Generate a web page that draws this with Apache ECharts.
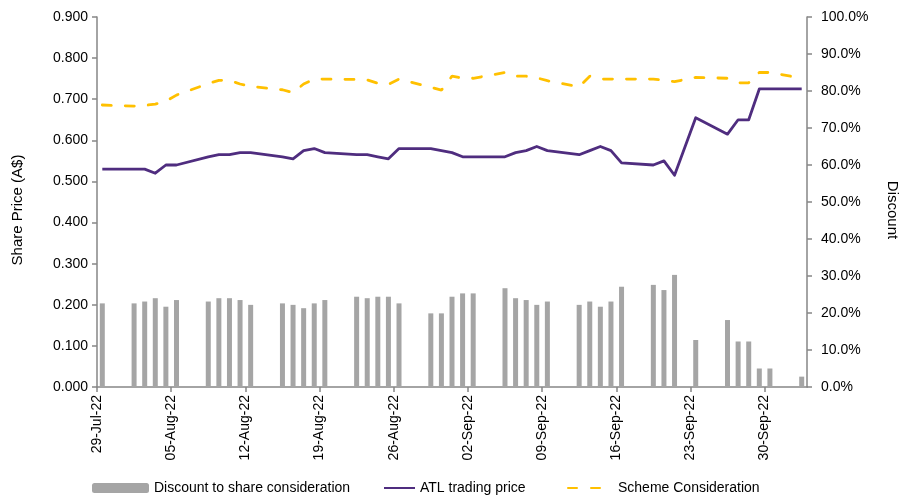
<!DOCTYPE html>
<html lang="en">
<head>
    <meta charset="UTF-8">
    <title>ATL trading price vs Scheme Consideration</title>
    <script src="https://cdn.jsdelivr.net/npm/echarts@6/dist/echarts.min.js"></script>
    <style>
        body { margin: 0; padding: 0; background: #fff; }
        #chart { width: 908px; height: 499px; }
    </style>
</head>
<body>
    <div id="chart"></div>
    <script>
        // trading days (22-Sep-22 closed, no data)
        const dates = [
            '2022-07-29',
            '2022-08-01', '2022-08-02', '2022-08-03', '2022-08-04', '2022-08-05',
            '2022-08-08', '2022-08-09', '2022-08-10', '2022-08-11', '2022-08-12',
            '2022-08-15', '2022-08-16', '2022-08-17', '2022-08-18', '2022-08-19',
            '2022-08-22', '2022-08-23', '2022-08-24', '2022-08-25', '2022-08-26',
            '2022-08-29', '2022-08-30', '2022-08-31', '2022-09-01', '2022-09-02',
            '2022-09-05', '2022-09-06', '2022-09-07', '2022-09-08', '2022-09-09',
            '2022-09-12', '2022-09-13', '2022-09-14', '2022-09-15', '2022-09-16',
            '2022-09-19', '2022-09-20', '2022-09-21', '2022-09-23',
            '2022-09-26', '2022-09-27', '2022-09-28', '2022-09-29', '2022-09-30',
            '2022-10-03'
        ];

        // ATL trading price (A$)
        const atlPrice = [
            0.530,
            0.530, 0.530, 0.520, 0.540, 0.540,
            0.560, 0.565, 0.565, 0.570, 0.570,
            0.560, 0.555, 0.575, 0.580, 0.570,
            0.565, 0.565, 0.560, 0.555, 0.580,
            0.580, 0.575, 0.570, 0.560, 0.560,
            0.560, 0.570, 0.575, 0.585, 0.575,
            0.565, 0.575, 0.585, 0.575, 0.545,
            0.540, 0.550, 0.515, 0.655,
            0.615, 0.650, 0.650, 0.725, 0.725,
            0.725
        ];

        // Scheme Consideration (A$)
        const schemeValue = [
            0.686,
            0.683, 0.685, 0.688, 0.695, 0.710,
            0.738, 0.746, 0.746, 0.737, 0.731,
            0.723, 0.716, 0.737, 0.749, 0.749,
            0.748, 0.747, 0.739, 0.736, 0.749,
            0.729, 0.722, 0.756, 0.751, 0.751,
            0.765, 0.756, 0.756, 0.752, 0.745,
            0.730, 0.756, 0.749, 0.749, 0.749,
            0.749, 0.746, 0.743, 0.753,
            0.751, 0.740, 0.740, 0.765, 0.765,
            0.751
        ];

        // Discount to share consideration (%)
        const discountPct = [
            22.6,
            22.6, 23.1, 24.0, 21.7, 23.5,
            23.1, 24.0, 24.0, 23.5, 22.2,
            22.6, 22.2, 21.3, 22.6, 23.5,
            24.4, 24.0, 24.4, 24.4, 22.6,
            19.9, 19.9, 24.4, 25.3, 25.3,
            26.7, 24.0, 23.5, 22.2, 23.1,
            22.2, 23.1, 21.7, 23.1, 27.1,
            27.6, 26.2, 30.3, 12.7,
            18.1, 12.3, 12.3, 5.0, 5.0,
            2.8
        ];

        // weekly tick labels on the x axis
        const tickLabels = ['29-Jul-22', '05-Aug-22', '12-Aug-22', '19-Aug-22', '26-Aug-22',
            '02-Sep-22', '09-Sep-22', '16-Sep-22', '23-Sep-22', '30-Sep-22'];

        const DAY = 86400000;
        const start = Date.parse(dates[0]);
        const lastDay = (Date.parse(dates[dates.length - 1]) - start) / DAY + 1;
        // each day sits in the middle of its slot, like the date axis in Excel
        const xOf = d => (Date.parse(d) - start) / DAY + 0.5;

        const priceData = dates.map((d, i) => [xOf(d), atlPrice[i]]);
        const schemeData = dates.map((d, i) => [xOf(d), schemeValue[i]]);
        const discountData = dates.map((d, i) => [xOf(d), discountPct[i]]);

        const font = 'Liberation Sans, Arial, sans-serif';
        const axisGray = '#868686';
        const legendText = { fontFamily: font, fontSize: 14, color: '#000' };
        const hiddenSymbol = { color: 'rgba(0,0,0,0)', borderWidth: 0 };

        const chart = echarts.init(document.getElementById('chart'));

        const option = {
            animation: false,
            backgroundColor: '#fff',
            textStyle: { fontFamily: font },
            grid: { left: 97, right: 94, top: 17, bottom: 112 },
            legend: [
                {
                    data: ['Discount to share consideration'],
                    left: 87, top: 476,
                    itemWidth: 57, itemHeight: 10,
                    textStyle: legendText
                },
                {
                    data: ['ATL trading price'],
                    left: 378, top: 476,
                    itemWidth: 31, itemHeight: 14,
                    itemStyle: hiddenSymbol,
                    textStyle: legendText
                },
                {
                    data: ['Scheme Consideration'],
                    left: 562, top: 476,
                    itemWidth: 45, itemHeight: 14,
                    itemStyle: hiddenSymbol,
                    textStyle: legendText
                }
            ],
            xAxis: {
                type: 'value',
                min: 0,
                max: lastDay,
                interval: 7,
                splitLine: { show: false },
                axisLine: { lineStyle: { color: axisGray, width: 1.5 } },
                axisTick: { show: true, length: 5, lineStyle: { color: axisGray, width: 1.5 } },
                axisLabel: {
                    rotate: 90,
                    margin: 8,
                    fontSize: 14,
                    color: '#000',
                    fontFamily: font,
                    showMaxLabel: false,
                    formatter: v => (v % 7 === 0 && tickLabels[v / 7]) ? tickLabels[v / 7] : ''
                }
            },
            yAxis: [
                {
                    type: 'value',
                    min: 0, max: 0.9, interval: 0.1,
                    name: 'Share Price (A$)',
                    nameLocation: 'middle',
                    nameGap: 72,
                    nameTextStyle: { fontSize: 15, color: '#000', fontFamily: font, padding: [0, 16, 0, 0] },
                    splitLine: { show: false },
                    axisLine: { show: true, lineStyle: { color: axisGray, width: 1.5 } },
                    axisTick: { show: true, length: 5, lineStyle: { color: axisGray, width: 1.5 } },
                    axisLabel: { fontSize: 14, color: '#000', margin: 9, fontFamily: font, formatter: v => v.toFixed(3) }
                },
                {
                    type: 'value',
                    min: 0, max: 100, interval: 10,
                    name: 'Discount',
                    nameLocation: 'middle',
                    nameGap: 78,
                    nameRotate: -90,
                    nameTextStyle: { fontSize: 15, color: '#000', fontFamily: font, padding: [0, 0, 0, 16] },
                    splitLine: { show: false },
                    axisLine: { show: true, lineStyle: { color: axisGray, width: 1.5 } },
                    axisTick: { show: true, length: 5, lineStyle: { color: axisGray, width: 1.5 } },
                    axisLabel: { fontSize: 14, color: '#000', margin: 14, fontFamily: font, formatter: v => v.toFixed(1) + '%' }
                }
            ],
            series: [
                {
                    name: 'Discount to share consideration',
                    type: 'bar',
                    yAxisIndex: 1,
                    data: discountData,
                    barWidth: 5,
                    itemStyle: { color: '#a5a5a5' },
                    z: 1
                },
                {
                    name: 'ATL trading price',
                    type: 'line',
                    yAxisIndex: 0,
                    data: priceData,
                    symbol: 'none',
                    lineStyle: { color: '#4f2d7f', width: 2.8, join: 'round' },
                    itemStyle: { color: '#4f2d7f' },
                    z: 3
                },
                {
                    name: 'Scheme Consideration',
                    type: 'line',
                    yAxisIndex: 0,
                    data: schemeData,
                    symbol: 'none',
                    lineStyle: { color: '#ffc000', width: 2.8, type: [9, 14], cap: 'round' },
                    itemStyle: { color: '#ffc000' },
                    z: 2
                }
            ]
        };

        chart.setOption(option);
    </script>
</body>
</html>
